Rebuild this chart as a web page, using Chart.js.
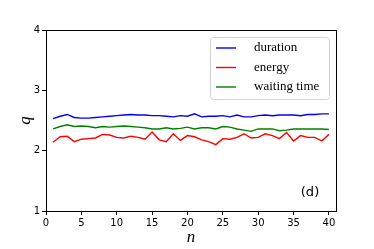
<!DOCTYPE html>
<html lang="en">
  <head>
    <meta charset="UTF-8" />
    <title>q vs n</title>
    <script src="https://cdn.jsdelivr.net/npm/chart.js"></script>
    <style>
      html, body { margin: 0; padding: 0; background: #fff; }
      .wrap { width: 374px; height: 249px; position: relative; }
    </style>
  </head>
  <body>
    <div class="wrap"><canvas id="qChart"></canvas></div>
    <script>
      const nValues = [1, 2, 3, 4, 5, 6, 7, 8, 9, 10, 11, 12, 13, 14, 15, 16, 17, 18, 19, 20,
        21, 22, 23, 24, 25, 26, 27, 28, 29, 30, 31, 32, 33, 34, 35, 36, 37, 38, 39, 40];
      const duration = [2.53, 2.57, 2.60, 2.55, 2.54, 2.54, 2.55, 2.56, 2.57, 2.58, 2.59, 2.60, 2.59, 2.59, 2.58, 2.58, 2.57, 2.56, 2.58, 2.57,
        2.61, 2.56, 2.57, 2.57, 2.58, 2.56, 2.59, 2.56, 2.56, 2.58, 2.59, 2.58, 2.59, 2.59, 2.59, 2.58, 2.60, 2.60, 2.61, 2.61];
      const energy = [2.14, 2.23, 2.24, 2.15, 2.19, 2.20, 2.21, 2.27, 2.26, 2.22, 2.21, 2.24, 2.22, 2.19, 2.31, 2.18, 2.15, 2.28, 2.17, 2.25,
        2.23, 2.18, 2.15, 2.10, 2.20, 2.19, 2.22, 2.28, 2.21, 2.22, 2.28, 2.25, 2.20, 2.30, 2.16, 2.25, 2.22, 2.22, 2.16, 2.27];
      const waitingTime = [2.36, 2.40, 2.43, 2.40, 2.41, 2.40, 2.38, 2.40, 2.39, 2.40, 2.41, 2.40, 2.39, 2.38, 2.36, 2.36, 2.38, 2.36, 2.37, 2.39,
        2.36, 2.38, 2.38, 2.36, 2.40, 2.39, 2.36, 2.34, 2.32, 2.36, 2.36, 2.36, 2.33, 2.34, 2.36, 2.36, 2.36, 2.36, 2.36, 2.35];
      const yTicks = [1, 2, 3, 4];
      const xTicks = [0, 5, 10, 15, 20, 25, 30, 35, 40];

      const toPoints = (arr) => arr.map((v, i) => ({ x: nValues[i], y: v }));

      // frame, legend box and panel tag drawn on top
      const extras = {
        id: "extras",
        afterDraw(chart) {
          const { ctx, chartArea: a } = chart;
          ctx.save();
          ctx.strokeStyle = "#000";
          ctx.lineWidth = 1;
          ctx.strokeRect(a.left + 0.5, a.top + 0.5, a.right - a.left, a.bottom - a.top);

          // legend
          const bx = 210.5, by = 37.5, bw = 119, bh = 62, r = 3;
          ctx.fillStyle = "rgba(255,255,255,0.85)";
          ctx.strokeStyle = "#d4d4d4";
          ctx.beginPath();
          ctx.roundRect(bx, by, bw, bh, r);
          ctx.fill();
          ctx.stroke();
          ctx.font = "13px 'Liberation Serif', 'DejaVu Serif', serif";
          ctx.textBaseline = "middle";
          chart.data.datasets.forEach((ds, i) => {
            const y = 48 + i * 19.5;
            ctx.strokeStyle = ds.borderColor;
            ctx.lineWidth = 1.4;
            ctx.beginPath();
            ctx.moveTo(216, y);
            ctx.lineTo(236, y);
            ctx.stroke();
            ctx.fillStyle = "#000";
            ctx.fillText(ds.label, 254, y);
          });

          ctx.font = "13px 'DejaVu Sans', sans-serif";
          ctx.textAlign = "center";
          ctx.fillStyle = "#000";
          ctx.fillText("(d)", 310, 193);
          ctx.restore();
        },
      };

      const ctx = document.getElementById("qChart").getContext("2d");
      new Chart(ctx, {
        type: "line",
        data: {
          datasets: [
            { label: "duration", data: toPoints(duration), borderColor: "#0000ff" },
            { label: "energy", data: toPoints(energy), borderColor: "#ff0000" },
            { label: "waiting time", data: toPoints(waitingTime), borderColor: "#008000" },
          ],
        },
        options: {
          responsive: true,
          maintainAspectRatio: false,
          animation: false,
          elements: {
            line: { borderWidth: 1.4, tension: 0, fill: false },
            point: { radius: 0 },
          },
          layout: { padding: { left: 0, right: 38, top: 30, bottom: 0 } },
          plugins: { legend: { display: false }, tooltip: { enabled: false } },
          scales: {
            x: {
              type: "linear",
              min: 0,
              max: 41,
              afterBuildTicks: (s) => { s.ticks = xTicks.map((v) => ({ value: v })); },
              afterFit: (s) => { s.height = 38; },
              grid: { drawOnChartArea: false, drawTicks: true, tickLength: 4, color: "#000" },
              border: { display: false },
              ticks: { color: "#000", padding: 2, maxRotation: 0, font: { family: "'DejaVu Sans', sans-serif", size: 10 } },
              title: {
                display: true,
                text: "n",
                color: "#000",
                padding: { top: 0, bottom: 1 },
                font: { family: "'Liberation Serif', 'DejaVu Serif', serif", style: "italic", size: 17 },
              },
            },
            y: {
              min: 1,
              max: 4,
              afterBuildTicks: (s) => { s.ticks = yTicks.map((v) => ({ value: v })); },
              afterFit: (s) => { s.width = 46; },
              grid: { drawOnChartArea: false, drawTicks: true, tickLength: 4, color: "#000" },
              border: { display: false },
              ticks: { color: "#000", padding: 2, font: { family: "'DejaVu Sans', sans-serif", size: 10 } },
              title: {
                display: true,
                text: "q",
                color: "#000",
                padding: { top: 15, bottom: 0 },
                font: { family: "'Liberation Serif', 'DejaVu Serif', serif", style: "italic", size: 17 },
              },
            },
          },
        },
        plugins: [extras],
      });
    </script>
  </body>
</html>
